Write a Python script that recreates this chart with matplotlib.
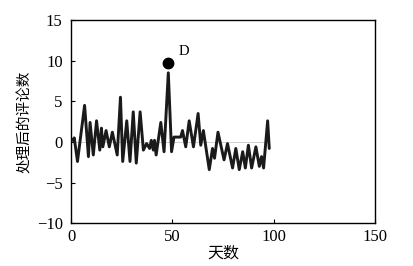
import matplotlib
matplotlib.use("Agg")
import matplotlib.pyplot as plt

# peaks and troughs of the processed comment count
days = [0.8, 1.6, 3.2, 6.7, 8.6, 9.4, 11.0, 12.6, 14.2, 15.0, 15.7, 17.3,
        18.9, 20.4, 22.8, 24.4, 25.5, 27.5, 29.1, 30.7, 32.2, 34.1, 35.7,
        37.3, 38.8, 39.6, 40.6, 41.2, 42.0, 44.3, 45.9, 48.0, 49.6, 50.8,
        54.1, 55.0, 56.6, 58.3, 60.4, 62.7, 64.0, 65.3, 68.2, 69.8, 70.8,
        72.5, 75.5, 77.2, 79.7, 81.3, 83.0, 84.7, 86.0, 87.5, 89.1, 91.2,
        92.9, 94.0, 95.0, 97.0, 97.8]
values = [0.2, 0.5, -2.4, 4.5, -1.8, 2.4, -1.6, 2.6, -1.0, 1.7, -0.6, 1.4,
          -0.6, 1.2, -1.6, 5.5, -2.4, 2.6, -2.4, 3.7, -2.6, 3.7, -1.0,
          -0.2, -0.8, 0.2, -1.0, 0.2, -1.6, 2.4, -1.2, 8.5, -1.2, 0.6,
          0.6, 1.4, -0.6, 2.6, -0.6, 3.5, -0.4, 1.4, -3.4, -0.8, -2.0,
          1.2, -2.2, -0.2, -3.2, -0.8, -3.4, -1.2, -3.2, -0.4, -3.2, -0.6,
          -3.0, -1.8, -3.2, 2.6, -0.8]

# outlier point D
d_day = 47.8
d_value = 9.7

xticks = [0, 50, 100, 150]
yticks = [-10, -5, 0, 5, 10, 15]

serif = "Liberation Serif"
cjk = ["Noto Sans CJK SC", "DejaVu Sans"]

fig = plt.figure(figsize=(4.14, 2.66), dpi=100)
ax = fig.add_axes([0.1715, 0.1605, 0.7345, 0.7645])

ax.hlines(0, days[0], days[-1], colors="#c8c8c8", linewidth=0.6, zorder=1)
ax.plot(days, values, color="#1a1a1a", linewidth=2.1,
        solid_joinstyle="round", solid_capstyle="round", zorder=3)
ax.plot([d_day], [d_value], "o", color="black", markersize=7.5, zorder=4)
ax.annotate("D", xy=(d_day, d_value), xytext=(8, 4), textcoords="offset points",
            fontsize=10.5, family=serif, ha="left", va="bottom")

ax.set_xlim(0, 150)
ax.set_ylim(-10, 15)
ax.set_xticks(xticks)
ax.set_yticks(yticks)
ax.tick_params(direction="in", length=3, width=0.8, top=False, right=False,
               labelsize=12)
ax.tick_params(axis="x", pad=4)
ax.tick_params(axis="y", pad=6)
for lab in ax.get_xticklabels() + ax.get_yticklabels():
    lab.set_family(serif)

for sp in ax.spines.values():
    sp.set_linewidth(1.0)

ax.set_xlabel("天数", family=cjk, fontsize=11.5, labelpad=0)
ax.set_ylabel("处理后的评论数", family=cjk, fontsize=10.5, labelpad=3)

fig.savefig("out.png", dpi=100)
plt.close(fig)
